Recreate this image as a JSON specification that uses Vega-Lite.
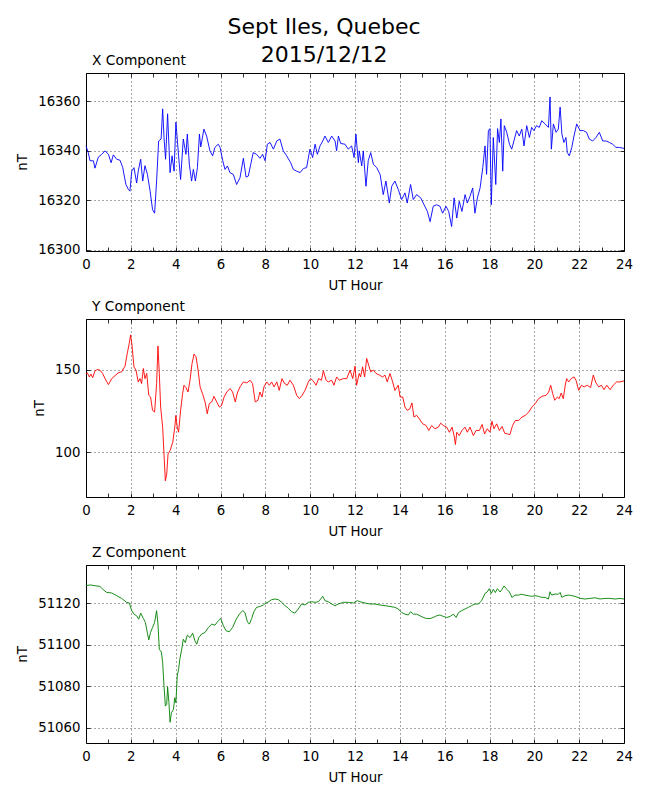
{
  "$schema": "https://vega.github.io/schema/vega-lite/v6.json",
  "description": "Sept Iles magnetometer, three components, 2015/12/12",
  "padding": {"left": 15, "top": 16, "right": 5, "bottom": 5},
  "title": {
    "text": ["Sept Iles, Quebec", "2015/12/12"],
    "fontSize": 22,
    "fontWeight": "normal",
    "lineHeight": 28,
    "anchor": "middle",
    "offset": -14,
    "color": "black"
  },
  "datasets": {
    "xc": [
      {"h":0,"v":16342},{"h":0.10,"v":16339.3},{"h":0.18,"v":16336},{"h":0.33,"v":16336},{"h":0.40,"v":16333},{"h":0.55,"v":16337.5},{"h":0.70,"v":16338.6},{"h":0.85,"v":16340},{"h":1.00,"v":16338.6},{"h":1.12,"v":16335.2},{"h":1.22,"v":16338.4},{"h":1.37,"v":16336.6},{"h":1.52,"v":16336.2},{"h":1.64,"v":16333.2},{"h":1.78,"v":16326.4},{"h":1.89,"v":16324.4},{"h":1.96,"v":16323.7},{"h":2.04,"v":16331.8},{"h":2.14,"v":16333.2},{"h":2.26,"v":16327},{"h":2.33,"v":16331.8},{"h":2.44,"v":16336.6},{"h":2.53,"v":16327.8},{"h":2.63,"v":16334},{"h":2.74,"v":16330.5},{"h":2.86,"v":16323.7},{"h":2.97,"v":16316.2},{"h":3.06,"v":16314.8},{"h":3.15,"v":16327.8},{"h":3.24,"v":16344},{"h":3.35,"v":16344.8},{"h":3.42,"v":16357},{"h":3.48,"v":16345.4},{"h":3.55,"v":16336.6},{"h":3.64,"v":16355},{"h":3.75,"v":16331.2},{"h":3.84,"v":16338},{"h":3.93,"v":16331.8},{"h":4.01,"v":16351.6},{"h":4.13,"v":16338},{"h":4.22,"v":16328.4},{"h":4.34,"v":16344.8},{"h":4.46,"v":16338.6},{"h":4.52,"v":16346.8},{"h":4.61,"v":16334.6},{"h":4.71,"v":16327.8},{"h":4.79,"v":16332.5},{"h":4.88,"v":16327.8},{"h":4.97,"v":16333.2},{"h":5.06,"v":16346.8},{"h":5.12,"v":16341.6},{"h":5.26,"v":16348.8},{"h":5.38,"v":16346},{"h":5.53,"v":16340},{"h":5.65,"v":16338},{"h":5.75,"v":16341.4},{"h":5.90,"v":16342.7},{"h":5.98,"v":16341.4},{"h":6.10,"v":16336},{"h":6.20,"v":16332.5},{"h":6.31,"v":16333.9},{"h":6.42,"v":16331.2},{"h":6.57,"v":16330.5},{"h":6.72,"v":16326.4},{"h":6.87,"v":16329.1},{"h":7.02,"v":16337},{"h":7.14,"v":16329.4},{"h":7.24,"v":16329.8},{"h":7.35,"v":16334.6},{"h":7.46,"v":16339.3},{"h":7.61,"v":16338.6},{"h":7.76,"v":16337},{"h":7.88,"v":16338.6},{"h":7.99,"v":16336},{"h":8.09,"v":16342.7},{"h":8.21,"v":16343.4},{"h":8.36,"v":16340.7},{"h":8.51,"v":16344},{"h":8.65,"v":16344.8},{"h":8.80,"v":16340},{"h":8.95,"v":16338},{"h":9.13,"v":16335.2},{"h":9.25,"v":16332.5},{"h":9.40,"v":16331.8},{"h":9.55,"v":16331.2},{"h":9.70,"v":16332.9},{"h":9.84,"v":16333.2},{"h":9.99,"v":16340.7},{"h":10.11,"v":16337.3},{"h":10.22,"v":16342.7},{"h":10.32,"v":16338.6},{"h":10.44,"v":16342},{"h":10.56,"v":16344},{"h":10.66,"v":16346},{"h":10.81,"v":16343.4},{"h":10.96,"v":16346},{"h":11.11,"v":16344},{"h":11.18,"v":16340},{"h":11.26,"v":16346},{"h":11.36,"v":16343},{"h":11.55,"v":16342.7},{"h":11.70,"v":16340.7},{"h":11.85,"v":16342},{"h":11.96,"v":16337.3},{"h":12.04,"v":16346.8},{"h":12.15,"v":16335.2},
      {"h":12.19,"v":16340},{"h":12.30,"v":16333.9},{"h":12.37,"v":16340},{"h":12.49,"v":16325.7},{"h":12.59,"v":16336},{"h":12.70,"v":16339.3},{"h":12.82,"v":16334.6},{"h":12.97,"v":16333.2},{"h":13.12,"v":16330.5},{"h":13.26,"v":16322.3},{"h":13.38,"v":16327.8},{"h":13.53,"v":16318.9},{"h":13.64,"v":16325.7},{"h":13.78,"v":16327.8},{"h":13.93,"v":16324.4},{"h":14.08,"v":16320.3},{"h":14.23,"v":16323},{"h":14.33,"v":16318.9},{"h":14.48,"v":16326.4},{"h":14.60,"v":16320.3},{"h":14.75,"v":16322.3},{"h":14.93,"v":16321},{"h":15.08,"v":16318.2},{"h":15.23,"v":16315.5},{"h":15.35,"v":16311.4},{"h":15.49,"v":16317.6},{"h":15.64,"v":16318.2},{"h":15.79,"v":16317.6},{"h":15.91,"v":16314.8},{"h":16.06,"v":16317.6},{"h":16.18,"v":16315.5},{"h":16.31,"v":16309.4},{"h":16.42,"v":16321},{"h":16.54,"v":16312.8},{"h":16.65,"v":16319.6},{"h":16.77,"v":16315.5},{"h":16.91,"v":16322.3},{"h":17.01,"v":16318.9},{"h":17.13,"v":16321.6},{"h":17.25,"v":16325},{"h":17.35,"v":16314.8},{"h":17.46,"v":16321},{"h":17.58,"v":16325},{"h":17.70,"v":16333.2},{"h":17.80,"v":16342},{"h":17.87,"v":16330.5},{"h":17.95,"v":16348.2},{"h":18.02,"v":16349},{"h":18.08,"v":16318.2},{"h":18.17,"v":16345.4},{"h":18.28,"v":16326.4},{"h":18.36,"v":16349},{"h":18.44,"v":16343.4},{"h":18.51,"v":16352.9},{"h":18.59,"v":16331.8},{"h":18.66,"v":16350.2},{"h":18.77,"v":16347.5},{"h":18.89,"v":16342.7},{"h":18.99,"v":16340.7},{"h":19.09,"v":16344},{"h":19.21,"v":16348.2},{"h":19.33,"v":16346},{"h":19.44,"v":16348.8},{"h":19.54,"v":16342},{"h":19.66,"v":16350.2},{"h":19.78,"v":16345.4},{"h":19.88,"v":16349.5},{"h":19.98,"v":16348.2},{"h":20.10,"v":16350.2},{"h":20.22,"v":16349.5},{"h":20.33,"v":16352.2},{"h":20.48,"v":16350.9},{"h":20.63,"v":16349.5},{"h":20.70,"v":16361.8},{"h":20.76,"v":16340.7},{"h":20.85,"v":16350.9},{"h":20.97,"v":16347.5},{"h":21.07,"v":16348.8},{"h":21.15,"v":16357.7},{"h":21.23,"v":16346.8},{"h":21.32,"v":16343.4},{"h":21.41,"v":16345.4},{"h":21.47,"v":16339.3},{"h":21.56,"v":16338},{"h":21.67,"v":16341.4},{"h":21.77,"v":16346},{"h":21.89,"v":16350.9},{"h":22.04,"v":16348.2},{"h":22.19,"v":16348.2},{"h":22.33,"v":16347.5},{"h":22.45,"v":16344.8},{"h":22.60,"v":16344},{"h":22.75,"v":16345.4},{"h":22.90,"v":16347.5},{"h":23.05,"v":16344},{"h":23.20,"v":16344},{"h":23.35,"v":16343.4},{"h":23.49,"v":16342.7},{"h":23.64,"v":16341.4},{"h":23.79,"v":16341.4},{"h":24.0,"v":16341}
    ],
    "yc": [
      {"h":0,"v":147.2},{"h":0.06,"v":148},{"h":0.15,"v":145.5},{"h":0.22,"v":147.2},{"h":0.30,"v":145.1},{"h":0.40,"v":149.2},{"h":0.51,"v":150},{"h":0.62,"v":149.6},{"h":0.74,"v":147.6},{"h":0.85,"v":144.5},{"h":1.00,"v":140.9},{"h":1.15,"v":144.5},{"h":1.29,"v":146.2},{"h":1.44,"v":148},{"h":1.59,"v":148.6},{"h":1.74,"v":152},{"h":1.84,"v":159.7},{"h":1.93,"v":165.8},{"h":1.99,"v":170.9},{"h":2.05,"v":164.8},{"h":2.14,"v":151.6},{"h":2.23,"v":149.6},{"h":2.33,"v":142.5},{"h":2.41,"v":144.5},{"h":2.48,"v":141.5},{"h":2.56,"v":150.6},{"h":2.63,"v":144.5},{"h":2.71,"v":147.6},{"h":2.80,"v":134.4},{"h":2.88,"v":133.4},{"h":2.97,"v":125.3},{"h":3.06,"v":124.3},{"h":3.15,"v":141.5},{"h":3.21,"v":164.2},{"h":3.27,"v":147.6},{"h":3.33,"v":127.3},{"h":3.42,"v":115.2},{"h":3.48,"v":99},{"h":3.54,"v":82.8},{"h":3.60,"v":86.8},{"h":3.66,"v":99},{"h":3.75,"v":101},{"h":3.87,"v":106.1},{"h":3.96,"v":115.2},{"h":4.01,"v":122.3},{"h":4.07,"v":115.2},{"h":4.13,"v":112.1},{"h":4.22,"v":125.3},{"h":4.31,"v":135.4},{"h":4.37,"v":140.5},{"h":4.46,"v":139.1},{"h":4.55,"v":136.4},{"h":4.64,"v":143.5},{"h":4.73,"v":153.6},{"h":4.82,"v":159.3},{"h":4.91,"v":157.7},{"h":5.00,"v":149.6},{"h":5.09,"v":139.5},{"h":5.20,"v":135.4},{"h":5.31,"v":130.4},{"h":5.41,"v":123.3},{"h":5.50,"v":129.4},{"h":5.61,"v":130.4},{"h":5.71,"v":133.8},{"h":5.83,"v":130.4},{"h":5.95,"v":127.3},{"h":6.05,"v":128.3},{"h":6.16,"v":133.4},{"h":6.28,"v":136.4},{"h":6.42,"v":138.5},{"h":6.54,"v":136.4},{"h":6.66,"v":130.4},{"h":6.75,"v":135.8},{"h":6.87,"v":139.5},{"h":7.02,"v":142.5},{"h":7.17,"v":141.9},{"h":7.32,"v":143.5},{"h":7.43,"v":141.5},{"h":7.55,"v":130.4},{"h":7.67,"v":131.4},{"h":7.76,"v":136.4},{"h":7.85,"v":133.4},{"h":7.94,"v":139.5},{"h":8.06,"v":142.5},{"h":8.18,"v":140.5},{"h":8.28,"v":142.5},{"h":8.39,"v":139.5},{"h":8.51,"v":142.5},{"h":8.62,"v":137.4},{"h":8.74,"v":144.5},{"h":8.86,"v":141.5},{"h":8.98,"v":140.5},{"h":9.10,"v":143.5},{"h":9.25,"v":140.5},{"h":9.40,"v":134.4},{"h":9.52,"v":132.4},{"h":9.64,"v":134.4},{"h":9.77,"v":137.4},{"h":9.92,"v":142.5},{"h":10.02,"v":144.5},{"h":10.14,"v":143.1},{"h":10.26,"v":140.5},{"h":10.38,"v":144.5},{"h":10.50,"v":143.5},{"h":10.59,"v":149.2},{"h":10.71,"v":143.5},{"h":10.81,"v":142.5},{"h":10.96,"v":143.5},{"h":11.06,"v":140.5},{"h":11.18,"v":145.5},{"h":11.30,"v":143.5},{"h":11.48,"v":144.5},{"h":11.63,"v":144.5},{"h":11.78,"v":149.6},{"h":11.90,"v":144.5},{"h":12.00,"v":152},{"h":12.07,"v":140.5},{"h":12.19,"v":147.6},
      {"h":12.25,"v":145.5},{"h":12.34,"v":151.6},{"h":12.43,"v":145.5},{"h":12.52,"v":156.7},{"h":12.61,"v":152.6},{"h":12.70,"v":148.6},{"h":12.82,"v":149.6},{"h":12.94,"v":147.6},{"h":13.09,"v":146.6},{"h":13.23,"v":145.5},{"h":13.34,"v":146.6},{"h":13.44,"v":142.5},{"h":13.56,"v":147.6},{"h":13.68,"v":142.5},{"h":13.78,"v":137.4},{"h":13.93,"v":140.5},{"h":14.01,"v":133.4},{"h":14.13,"v":133.4},{"h":14.23,"v":127.3},{"h":14.33,"v":125.3},{"h":14.45,"v":126.3},{"h":14.54,"v":129.8},{"h":14.63,"v":121.3},{"h":14.75,"v":122.3},{"h":14.87,"v":120.2},{"h":15.02,"v":117.2},{"h":15.17,"v":116.2},{"h":15.29,"v":113.2},{"h":15.42,"v":116.2},{"h":15.57,"v":114.2},{"h":15.72,"v":115.2},{"h":15.82,"v":117.6},{"h":15.94,"v":116.2},{"h":16.09,"v":115.2},{"h":16.21,"v":112.1},{"h":16.33,"v":115.2},{"h":16.42,"v":110.1},{"h":16.48,"v":104.7},{"h":16.54,"v":112.1},{"h":16.65,"v":110.1},{"h":16.77,"v":113.2},{"h":16.91,"v":115.2},{"h":17.01,"v":112.1},{"h":17.13,"v":115.2},{"h":17.28,"v":110.1},{"h":17.40,"v":113.2},{"h":17.55,"v":113.2},{"h":17.67,"v":116.8},{"h":17.78,"v":111.1},{"h":17.90,"v":114.2},{"h":18.02,"v":112.1},{"h":18.11,"v":118.8},{"h":18.20,"v":114.2},{"h":18.32,"v":117.2},{"h":18.44,"v":113.2},{"h":18.56,"v":115.6},{"h":18.68,"v":111.5},{"h":18.80,"v":111.1},{"h":18.91,"v":110.7},{"h":19.03,"v":116.2},{"h":19.15,"v":119.2},{"h":19.30,"v":119.2},{"h":19.45,"v":121.3},{"h":19.60,"v":122.3},{"h":19.75,"v":124.3},{"h":19.89,"v":127.3},{"h":20.04,"v":129.4},{"h":20.19,"v":132.4},{"h":20.34,"v":133.8},{"h":20.52,"v":134.4},{"h":20.64,"v":136.4},{"h":20.73,"v":140.5},{"h":20.82,"v":135.4},{"h":20.91,"v":131.4},{"h":21.03,"v":133.4},{"h":21.11,"v":132.4},{"h":21.20,"v":135.8},{"h":21.29,"v":132.4},{"h":21.38,"v":140.5},{"h":21.44,"v":144.5},{"h":21.53,"v":142.5},{"h":21.65,"v":144.5},{"h":21.77,"v":145.5},{"h":21.86,"v":143.5},{"h":21.98,"v":137.4},{"h":22.10,"v":140.5},{"h":22.22,"v":139.5},{"h":22.36,"v":140.5},{"h":22.51,"v":139.1},{"h":22.63,"v":146.6},{"h":22.75,"v":141.9},{"h":22.87,"v":139.5},{"h":22.99,"v":140.5},{"h":23.11,"v":137.8},{"h":23.23,"v":140.5},{"h":23.38,"v":137.8},{"h":23.52,"v":140.5},{"h":23.67,"v":142.5},{"h":23.82,"v":142.5},{"h":24.0,"v":143.1}
    ],
    "zc": [
      {"h":0,"v":51128.5},{"h":0.18,"v":51128.9},{"h":0.40,"v":51128.5},{"h":0.62,"v":51128.2},{"h":0.77,"v":51126.6},{"h":0.92,"v":51125.3},{"h":1.15,"v":51125},{"h":1.37,"v":51123.7},{"h":1.59,"v":51122.4},{"h":1.81,"v":51120.5},{"h":1.93,"v":51120.2},{"h":2.04,"v":51116.5},{"h":2.14,"v":51114.8},{"h":2.26,"v":51114},{"h":2.35,"v":51112.4},{"h":2.44,"v":51115.3},{"h":2.56,"v":51112.7},{"h":2.65,"v":51110.8},{"h":2.74,"v":51105.6},{"h":2.80,"v":51102.4},{"h":2.88,"v":51106},{"h":2.97,"v":51108.4},{"h":3.06,"v":51110.8},{"h":3.15,"v":51116.5},{"h":3.21,"v":51110},{"h":3.27,"v":51097.9},{"h":3.36,"v":51096.6},{"h":3.42,"v":51091.5},{"h":3.48,"v":51080.2},{"h":3.54,"v":51070.5},{"h":3.60,"v":51071.3},{"h":3.64,"v":51079.8},{"h":3.70,"v":51072.1},{"h":3.75,"v":51062.7},{"h":3.81,"v":51067.3},{"h":3.90,"v":51068.9},{"h":3.96,"v":51074.5},{"h":4.01,"v":51072.1},{"h":4.07,"v":51085},{"h":4.13,"v":51088.2},{"h":4.19,"v":51093.4},{"h":4.27,"v":51097.9},{"h":4.34,"v":51102.7},{"h":4.43,"v":51101.1},{"h":4.52,"v":51104.7},{"h":4.64,"v":51103.5},{"h":4.76,"v":51105.6},{"h":4.86,"v":51101.9},{"h":4.94,"v":51100.3},{"h":5.03,"v":51103.5},{"h":5.16,"v":51105.2},{"h":5.31,"v":51106},{"h":5.46,"v":51108.4},{"h":5.61,"v":51110},{"h":5.75,"v":51109.5},{"h":5.90,"v":51111.6},{"h":6.01,"v":51112.7},{"h":6.13,"v":51109.2},{"h":6.25,"v":51106.8},{"h":6.39,"v":51106.3},{"h":6.54,"v":51108.4},{"h":6.69,"v":51112.1},{"h":6.84,"v":51114.8},{"h":6.99,"v":51116.5},{"h":7.09,"v":51115.6},{"h":7.20,"v":51111.1},{"h":7.29,"v":51110},{"h":7.39,"v":51112.7},{"h":7.49,"v":51116},{"h":7.61,"v":51118.1},{"h":7.76,"v":51118.5},{"h":7.91,"v":51119.2},{"h":8.03,"v":51120.2},{"h":8.15,"v":51120.8},{"h":8.28,"v":51121.8},{"h":8.43,"v":51122.1},{"h":8.58,"v":51121.8},{"h":8.73,"v":51120.5},{"h":8.88,"v":51118.9},{"h":9.03,"v":51117.6},{"h":9.17,"v":51116},{"h":9.32,"v":51115.3},{"h":9.47,"v":51117.3},{"h":9.62,"v":51119.7},{"h":9.77,"v":51119.2},{"h":9.92,"v":51120.5},{"h":10.07,"v":51120.8},{"h":10.22,"v":51120.5},{"h":10.36,"v":51120.8},{"h":10.47,"v":51122.1},{"h":10.56,"v":51123.4},{"h":10.66,"v":51121.3},{"h":10.81,"v":51120.8},{"h":10.96,"v":51119.7},{"h":11.11,"v":51118.9},{"h":11.26,"v":51119.7},{"h":11.48,"v":51120.5},{"h":11.70,"v":51120.5},{"h":11.93,"v":51120.2},{"h":12.10,"v":51121.3},
      {"h":12.22,"v":51120.8},{"h":12.45,"v":51120.2},{"h":12.67,"v":51119.7},{"h":12.89,"v":51119.7},{"h":13.12,"v":51119.2},{"h":13.34,"v":51118.9},{"h":13.56,"v":51118.5},{"h":13.78,"v":51118.1},{"h":13.93,"v":51117.3},{"h":14.08,"v":51115.6},{"h":14.23,"v":51114.8},{"h":14.38,"v":51114.4},{"h":14.48,"v":51116},{"h":14.60,"v":51114.8},{"h":14.75,"v":51114.8},{"h":14.90,"v":51114},{"h":15.05,"v":51113.2},{"h":15.20,"v":51112.7},{"h":15.35,"v":51112.7},{"h":15.49,"v":51113.2},{"h":15.64,"v":51114},{"h":15.79,"v":51114.4},{"h":15.94,"v":51113.7},{"h":16.09,"v":51113.2},{"h":16.24,"v":51113.7},{"h":16.39,"v":51114.8},{"h":16.51,"v":51113.2},{"h":16.62,"v":51115.6},{"h":16.76,"v":51116.5},{"h":16.91,"v":51117.3},{"h":17.06,"v":51118.1},{"h":17.20,"v":51118.9},{"h":17.35,"v":51119.7},{"h":17.50,"v":51119.7},{"h":17.65,"v":51121.3},{"h":17.80,"v":51124.8},{"h":17.90,"v":51125.5},{"h":17.99,"v":51127.1},{"h":18.08,"v":51124.8},{"h":18.17,"v":51126.8},{"h":18.26,"v":51125.2},{"h":18.35,"v":51127.1},{"h":18.47,"v":51125.5},{"h":18.56,"v":51126.8},{"h":18.65,"v":51128.4},{"h":18.77,"v":51126.8},{"h":18.89,"v":51125.5},{"h":19.00,"v":51122.9},{"h":19.14,"v":51124},{"h":19.29,"v":51124},{"h":19.44,"v":51124.4},{"h":19.58,"v":51124},{"h":19.73,"v":51123.7},{"h":19.88,"v":51123.4},{"h":20.03,"v":51123.7},{"h":20.18,"v":51123.4},{"h":20.33,"v":51122.9},{"h":20.48,"v":51122.9},{"h":20.63,"v":51122.1},{"h":20.70,"v":51125.6},{"h":20.77,"v":51124},{"h":20.92,"v":51124.5},{"h":21.07,"v":51124.4},{"h":21.15,"v":51125.3},{"h":21.23,"v":51122.9},{"h":21.37,"v":51123.7},{"h":21.52,"v":51124},{"h":21.67,"v":51123.7},{"h":21.81,"v":51123.4},{"h":22.04,"v":51122.4},{"h":22.26,"v":51122.1},{"h":22.48,"v":51122.4},{"h":22.71,"v":51122.7},{"h":22.93,"v":51122.1},{"h":23.15,"v":51122.4},{"h":23.38,"v":51122.4},{"h":23.60,"v":51122.1},{"h":23.82,"v":51122.4},{"h":24.0,"v":51122.1}
    ]
  },
  "spacing": 6,
  "vconcat": [
    {
      "data": {"name": "xc"},
      "width": 538,
      "height": 178,
      "title": {"text": "X Component", "anchor": "start", "frame": "group", "fontSize": 13.8, "fontWeight": "normal", "offset": 5, "dx": 6, "color": "black"},
      "layer": [
        {
          "mark": {"type": "line", "color": "#0000ff", "strokeWidth": 0.9},
          "encoding": {
            "x": {"field": "h", "type": "quantitative", "scale": {"domain": [0, 24], "nice": false},
              "axis": {"orient": "bottom", "title": "UT Hour", "values": [0,1,2,3,4,5,6,7,8,9,10,11,12,13,14,15,16,17,18,19,20,21,22,23,24],
                "labelExpr": "datum.value % 2 == 0 ? datum.label : ''",
                "gridOpacity": {"condition": {"test": "datum.value % 2 == 0", "value": 1}, "value": 0}}},
            "y": {"field": "v", "type": "quantitative", "scale": {"domain": [16299.5, 16371.5], "nice": false, "zero": false},
              "axis": {"title": "nT", "values": [16300, 16320, 16340, 16360]}}
          }
        },
        {
          "mark": {"type": "line", "opacity": 0},
          "encoding": {
            "x": {"field": "h", "type": "quantitative", "axis": {"orient": "top", "title": null, "labels": false, "grid": false, "values": [0,1,2,3,4,5,6,7,8,9,10,11,12,13,14,15,16,17,18,19,20,21,22,23,24]}},
            "y": {"field": "v", "type": "quantitative", "axis": {"orient": "right", "title": null, "labels": false, "grid": false, "values": [16300, 16320, 16340, 16360]}}
          }
        }
      ],
      "resolve": {"axis": {"x": "independent", "y": "independent"}}
    },
    {
      "data": {"name": "yc"},
      "width": 538,
      "height": 178,
      "title": {"text": "Y Component", "anchor": "start", "frame": "group", "fontSize": 13.8, "fontWeight": "normal", "offset": 5, "dx": 6, "color": "black"},
      "layer": [
        {
          "mark": {"type": "line", "color": "#ff0000", "strokeWidth": 0.9},
          "encoding": {
            "x": {"field": "h", "type": "quantitative", "scale": {"domain": [0, 24], "nice": false},
              "axis": {"orient": "bottom", "title": "UT Hour", "values": [0,1,2,3,4,5,6,7,8,9,10,11,12,13,14,15,16,17,18,19,20,21,22,23,24],
                "labelExpr": "datum.value % 2 == 0 ? datum.label : ''",
                "gridOpacity": {"condition": {"test": "datum.value % 2 == 0", "value": 1}, "value": 0}}},
            "y": {"field": "v", "type": "quantitative", "scale": {"domain": [73, 180.5], "nice": false, "zero": false},
              "axis": {"title": "nT", "values": [100, 150]}}
          }
        },
        {
          "mark": {"type": "line", "opacity": 0},
          "encoding": {
            "x": {"field": "h", "type": "quantitative", "axis": {"orient": "top", "title": null, "labels": false, "grid": false, "values": [0,1,2,3,4,5,6,7,8,9,10,11,12,13,14,15,16,17,18,19,20,21,22,23,24]}},
            "y": {"field": "v", "type": "quantitative", "axis": {"orient": "right", "title": null, "labels": false, "grid": false, "values": [100, 150]}}
          }
        }
      ],
      "resolve": {"axis": {"x": "independent", "y": "independent"}}
    },
    {
      "data": {"name": "zc"},
      "width": 538,
      "height": 178,
      "title": {"text": "Z Component", "anchor": "start", "frame": "group", "fontSize": 13.8, "fontWeight": "normal", "offset": 5, "dx": 6, "color": "black"},
      "layer": [
        {
          "mark": {"type": "line", "color": "#008000", "strokeWidth": 0.9},
          "encoding": {
            "x": {"field": "h", "type": "quantitative", "scale": {"domain": [0, 24], "nice": false},
              "axis": {"orient": "bottom", "title": "UT Hour", "values": [0,1,2,3,4,5,6,7,8,9,10,11,12,13,14,15,16,17,18,19,20,21,22,23,24],
                "labelExpr": "datum.value % 2 == 0 ? datum.label : ''",
                "gridOpacity": {"condition": {"test": "datum.value % 2 == 0", "value": 1}, "value": 0}}},
            "y": {"field": "v", "type": "quantitative", "scale": {"domain": [51052.7, 51138.5], "nice": false, "zero": false},
              "axis": {"title": "nT", "values": [51060, 51080, 51100, 51120]}}
          }
        },
        {
          "mark": {"type": "line", "opacity": 0},
          "encoding": {
            "x": {"field": "h", "type": "quantitative", "axis": {"orient": "top", "title": null, "labels": false, "grid": false, "values": [0,1,2,3,4,5,6,7,8,9,10,11,12,13,14,15,16,17,18,19,20,21,22,23,24]}},
            "y": {"field": "v", "type": "quantitative", "axis": {"orient": "right", "title": null, "labels": false, "grid": false, "values": [51060, 51080, 51100, 51120]}}
          }
        }
      ],
      "resolve": {"axis": {"x": "independent", "y": "independent"}}
    }
  ],
  "config": {
    "font": "DejaVu Sans",
    "view": {"stroke": "black", "strokeWidth": 1},
    "axis": {
      "domain": false,
      "tickSize": -4,
      "tickColor": "black",
      "tickWidth": 0.8,
      "labelPadding": 10,
      "labelFontSize": 13.3,
      "labelColor": "black",
      "labelFlush": false,
      "labelOverlap": false,
      "titleFontSize": 13.3,
      "titleFontWeight": "normal",
      "titleColor": "black",
      "titlePadding": 8,
      "grid": true,
      "gridColor": "black",
      "gridDash": [1, 3],
      "gridWidth": 0.7
    },
    "axisY": {"format": "d"}
  }
}
